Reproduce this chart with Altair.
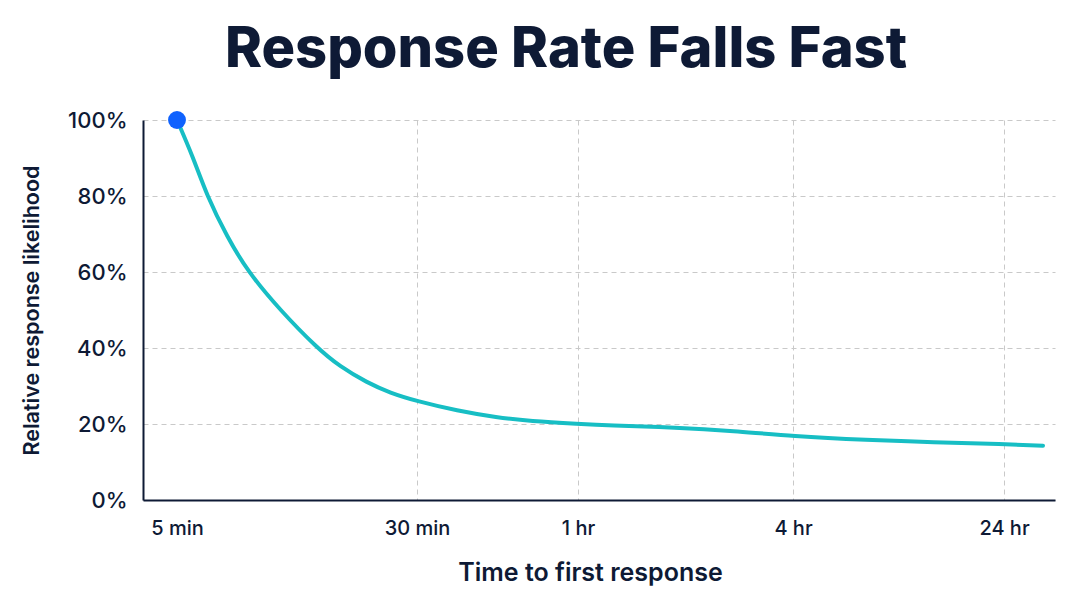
import altair as alt
import pandas as pd

# tick positions along the (non-uniform) time axis, in display units
tick_labels = ["5 min", "30 min", "1 hr", "4 hr", "24 hr"]
tick_pos = [0.0, 2.40, 4.01, 6.16, 8.27]

# curve
curve_pos = [0.0, 0.16, 0.30, 0.50, 0.71, 1.03, 1.40, 1.63, 1.90, 2.13, 2.40, 2.80,
             3.20, 3.53, 4.03, 4.30, 5.00, 5.56, 6.16, 6.90, 7.56, 8.27, 8.66]
curve_pct = [100, 90.3, 80, 69.3, 60, 50, 40, 35.1, 30.9, 28.2, 26.0, 23.5,
             21.7, 20.8, 20.0, 19.6, 19.1, 18.2, 16.8, 15.8, 15.2, 14.7, 14.3]

navy = "#0e1a35"
teal = "#17bec4"
blue = "#0f62fe"
grid = "#c9c9c9"

df = pd.DataFrame({"pos": curve_pos, "pct": curve_pct})
start = df.iloc[[0]]

label_expr = " : ".join(
    f"datum.value == {p} ? '{l}'" for p, l in zip(tick_pos, tick_labels)
) + " : ''"

x = alt.X(
    "pos:Q",
    scale=alt.Scale(domain=[-0.34, 8.78], nice=False, zero=False),
    axis=alt.Axis(
        values=tick_pos,
        labelExpr=label_expr,
        title="Time to first response",
        ticks=False,
        labelPadding=18,
        titlePadding=22,
        labelFontSize=20,
        titleFontSize=25,
        titleFontWeight=600,
        titleX=447,
        gridDash=[5, 4],
        gridColor=grid,
        gridOpacity=alt.condition("datum.value == 0", alt.value(0), alt.value(1)),
    ),
)
y = alt.Y(
    "pct:Q",
    scale=alt.Scale(domain=[0, 100], nice=False),
    axis=alt.Axis(
        values=[0, 20, 40, 60, 80, 100],
        labelExpr="datum.value + '%'",
        title="Relative response likelihood",
        ticks=False,
        labelPadding=16,
        titlePadding=24,
        labelFontSize=22,
        titleFontSize=21.5,
        titleFontWeight=600,
        gridDash=[5, 4],
        gridColor=grid,
    ),
)

line = alt.Chart(df).mark_line(
    color=teal, strokeWidth=4, interpolate="basis", strokeCap="round"
).encode(x=x, y=y)

dot = alt.Chart(start).mark_point(
    filled=True, color=blue, size=320, opacity=1
).encode(x="pos:Q", y="pct:Q")

chart = (line + dot).properties(
    width=912,
    height=380,
    autosize=alt.AutoSizeParams(type="none"),
    padding={"left": 135, "top": 112, "right": 20, "bottom": 90},
    title=alt.TitleParams(
        "Response Rate Falls Fast",
        font="Inter",
        fontSize=56,
        fontWeight=800,
        color=navy,
        anchor="middle",
        dx=-33,
        dy=64,
        offset=50,
        baseline="alphabetic",
    ),
).configure_view(
    stroke=None
).configure_axis(
    labelFont="Inter",
    titleFont="Inter",
    labelFontWeight=500,
    labelColor=navy,
    titleColor=navy,
    domainColor=navy,
    domainWidth=2,
)

chart.save("out.html", embed_options={"renderer": "svg", "actions": False})
